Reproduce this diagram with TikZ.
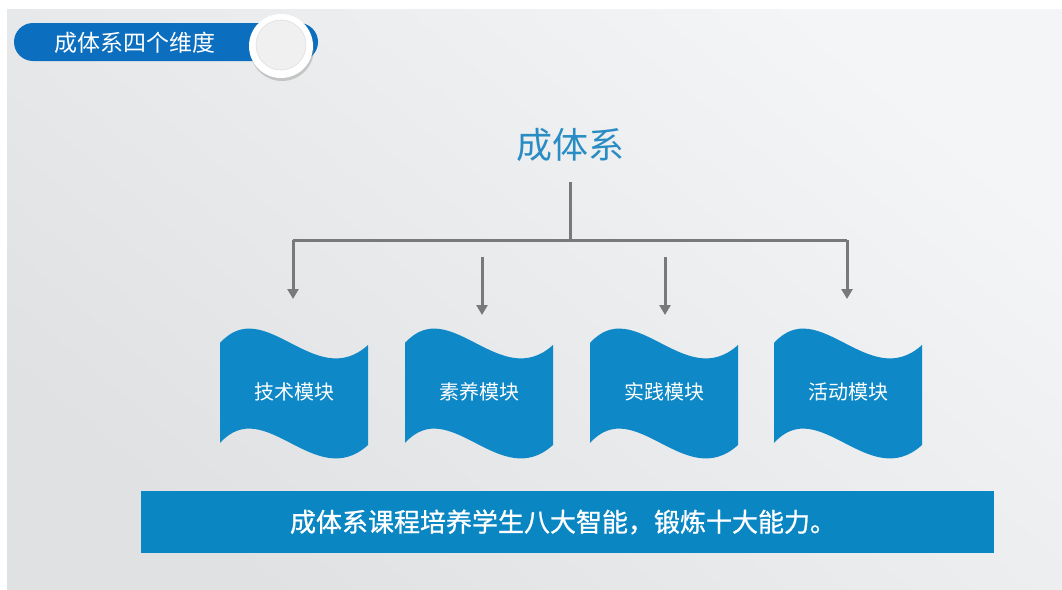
\documentclass[tikz,border=0pt]{standalone}
\usepackage{fontspec}
\newfontfamily\cjk{Noto Sans CJK SC}
\newfontfamily\cjkm{Noto Sans CJK SC}[FakeBold=0.9]
\usetikzlibrary{arrows.meta,shadows}
\definecolor{bgA}{HTML}{DFE1E3}
\definecolor{bgB}{HTML}{F4F5F6}
\definecolor{pillblue}{HTML}{0B6EBE}
\definecolor{flagblue}{HTML}{0E88C6}
\definecolor{bannerblue}{HTML}{0A86C3}
\definecolor{titleblue}{HTML}{2A8CC4}
\definecolor{linegray}{HTML}{797979}
\tikzset{
  conn/.style={draw=linegray, line width=3pt},
  arr/.style={conn, -{Triangle[width=11pt,length=10pt]}},
  flagtext/.style={font=\cjk\fontsize{20}{24}\selectfont, text=white},
  flagshape/.style={fill=flagblue},
}
\newcommand{\flagpath}[2]{%
  \fill[flagshape] (#1,#2+15) .. controls (#1+45,#2-35) and (#1+95,#2+65) .. (#1+148,#2+17)
    -- (#1+148,#2+117) .. controls (#1+95,#2+165) and (#1+45,#2+65) .. (#1,#2+115) -- cycle;}
\begin{document}
\begin{tikzpicture}[x=1pt,y=-1pt]
\useasboundingbox (0,0) rectangle (1062,589);
\fill[white] (0,0) rectangle (1062,589);
\shade[bottom color=bgA, top color=bgB, shading angle=-40] (7,9) rectangle (1062,589);
% top-left pill
\fill[pillblue] (14,23) [rounded corners=19pt] rectangle (318,61);
\node[font=\cjk\fontsize{23}{26}\selectfont, text=white] (hdr) at (135,43) {成体系四个维度};
\fill[white, drop shadow={shadow xshift=1pt, shadow yshift=-3pt, opacity=0.35}] (281,46) circle (32);
\fill[gray!12, draw=gray!25, line width=0.6pt] (281,45) circle (25);
% title
\node[font=\cjk\fontsize{36}{40}\selectfont, text=titleblue] (t) at (570,145) {成体系};
\coordinate (hub) at (570,240);
\coordinate (hl) at (293,240);
\coordinate (hr) at (847,240);
\coordinate (m1s) at (482,257);
\coordinate (m2s) at (665,257);
% flags
\flagpath{220}{328}
\flagpath{405}{328}
\flagpath{590}{328}
\flagpath{774}{328}
\node[flagtext] (f1) at (294,392) {技术模块};
\node[flagtext] (f2) at (479,392) {素养模块};
\node[flagtext] (f3) at (664,392) {实践模块};
\node[flagtext] (f4) at (848,392) {活动模块};
% connectors
\draw[conn] (570,182) -- (hub);
\draw[conn] (hub) -- (hl);
\draw[conn] (hub) -- (hr);
\draw[arr] (hl) -- (293,299);
\draw[arr] (hr) -- (847,299);
\draw[arr] (m1s) -- (482,315);
\draw[arr] (m2s) -- (665,315);
% banner
\fill[bannerblue] (141,491) rectangle (994,553);
\node[font=\cjkm\fontsize{26}{30}\selectfont, text=white] (ban) at (563,522) {成体系课程培养学生八大智能，锻炼十大能力。};
\end{tikzpicture}
\end{document}
